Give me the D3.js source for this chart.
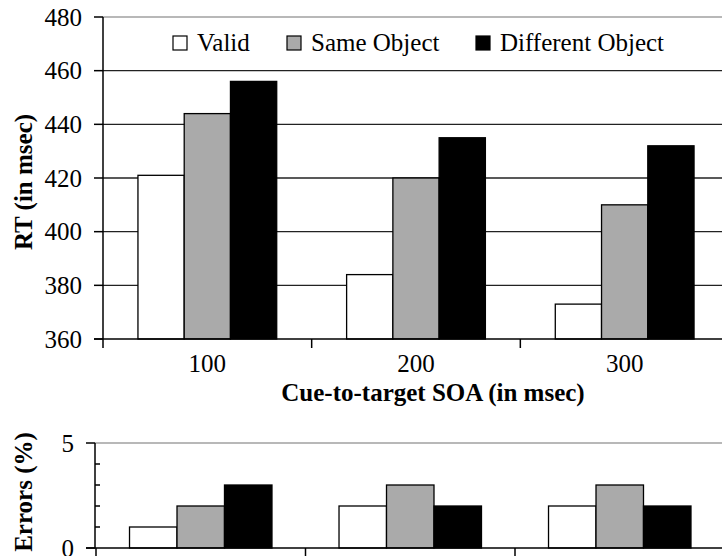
<!DOCTYPE html>
<html>
<head>
<meta charset="utf-8">
<title>RT and errors by SOA</title>
<script src="https://d3js.org/d3.v7.min.js"></script>
<style>
  body { margin: 0; background: #fff; }
  svg { display: block; }
  .grid { stroke: #222; stroke-width: 1.4; }
  .border { stroke: #a0a0a0; stroke-width: 1.4; }
  .ax { stroke: #000; stroke-width: 1.5; }
  .bar { stroke: #000; stroke-width: 1.3; }
</style>
</head>
<body>
<svg width="722" height="556"></svg>
<script>
// data
var categories = ["100", "200", "300"];
var seriesNames = ["Valid", "Same Object", "Different Object"];
var seriesFill = ["#ffffff", "#aaaaaa", "#000000"];

var rtValid = [421, 384, 373];
var rtSame  = [444, 420, 410];
var rtDiff  = [456, 435, 432];

var errValid = [1, 2, 2];
var errSame  = [2, 3, 3];
var errDiff  = [3, 2, 2];

var rtTicks = [360, 380, 400, 420, 440, 460, 480];
var errTicks = [0, 1, 2, 3, 4, 5];
var errLabels = [0, 5];

var FONT = "'Liberation Serif', Tinos, 'Times New Roman', 'DejaVu Serif', serif";
var FS = "25px";

var svg = d3.select("svg");

function rows(a, b, c) {
  return categories.map(function(cat, i) {
    return { cat: cat, vals: [a[i], b[i], c[i]] };
  });
}

// draws one panel of grouped bars
function panel(opt) {
  var x0 = d3.scaleBand().domain(categories).range(opt.xr)
             .paddingInner(opt.pad).paddingOuter(opt.pad / 2);
  var x1 = d3.scaleBand().domain(d3.range(seriesNames.length)).range([0, x0.bandwidth()]);
  var y = d3.scaleLinear().domain(opt.yd).range(opt.yr);
  var g = svg.append("g");
  var right = opt.xr[1];

  // gridlines / top border
  g.selectAll(".gl").data(opt.grid).enter().append("line")
    .attr("class", function(d) { return d == opt.yd[1] ? "border" : "grid"; })
    .attr("x1", opt.axisX).attr("x2", right)
    .attr("y1", function(d) { return y(d); }).attr("y2", function(d) { return y(d); });

  // bars
  var grp = g.selectAll(".grp").data(opt.data).enter().append("g")
    .attr("transform", function(d) { return "translate(" + x0(d.cat) + ",0)"; });
  grp.selectAll("rect").data(function(d) { return d.vals; }).enter().append("rect")
    .attr("class", "bar")
    .attr("x", function(d, i) { return x1(i); })
    .attr("width", x1.bandwidth())
    .attr("y", function(d) { return y(d); })
    .attr("height", function(d) { return y(opt.yd[0]) - y(d); })
    .attr("fill", function(d, i) { return seriesFill[i]; });

  // y axis line and ticks
  g.append("line").attr("class", "ax")
    .attr("x1", opt.axisX).attr("x2", opt.axisX)
    .attr("y1", y(opt.yd[1])).attr("y2", y(opt.yd[0]));
  g.selectAll(".yt").data(opt.ticks).enter().append("line").attr("class", "ax")
    .attr("x1", function(d) { return opt.labels.indexOf(d) >= 0 ? opt.axisX - 9 : opt.axisX; })
    .attr("x2", function(d) { return opt.labels.indexOf(d) >= 0 ? opt.axisX : opt.axisX + 5; })
    .attr("y1", function(d) { return y(d); }).attr("y2", function(d) { return y(d); });
  g.selectAll(".yl").data(opt.labels).enter().append("text")
    .attr("x", opt.axisX - 21).attr("y", function(d) { return y(d); })
    .attr("dy", "0.34em").attr("text-anchor", "end")
    .style("font-family", FONT).style("font-size", FS)
    .text(function(d) { return d; });

  // x axis line and category boundary ticks
  g.append("line").attr("class", "ax")
    .attr("x1", opt.axisX - 9).attr("x2", right)
    .attr("y1", y(opt.yd[0])).attr("y2", y(opt.yd[0]));
  var bounds = categories.map(function(c) { return x0(c) - x0.step() * x0.paddingInner() / 2; });
  g.selectAll(".xt").data(bounds).enter().append("line").attr("class", "ax")
    .attr("x1", function(d) { return d; }).attr("x2", function(d) { return d; })
    .attr("y1", y(opt.yd[0])).attr("y2", y(opt.yd[0]) + 9);

  if (opt.xLabels) {
    g.selectAll(".xl").data(categories).enter().append("text")
      .attr("x", function(d) { return x0(d) + x0.bandwidth() / 2; })
      .attr("y", y(opt.yd[0]) + 33)
      .attr("text-anchor", "middle")
      .style("font-family", FONT).style("font-size", FS)
      .text(function(d) { return d; });
  }

  svg.append("text")
    .attr("transform", "translate(32," + opt.titleY + ") rotate(-90)")
    .attr("text-anchor", "middle")
    .style("font-family", FONT).style("font-size", FS).style("font-weight", "bold")
    .text(opt.yTitle);
}

panel({
  data: rows(rtValid, rtSame, rtDiff),
  xr: [103, 729], pad: 0.335, axisX: 103,
  yd: [360, 480], yr: [339, 17],
  grid: rtTicks.slice(1), ticks: rtTicks, labels: rtTicks,
  xLabels: true, yTitle: "RT (in msec)", titleY: 182
});

panel({
  data: rows(errValid, errSame, errDiff),
  xr: [96, 724.5], pad: 0.32, axisX: 95,
  yd: [0, 5], yr: [548, 443],
  grid: [5], ticks: errTicks, labels: errLabels,
  xLabels: false, yTitle: "Errors (%)", titleY: 492
});

// x axis title
svg.append("text")
  .attr("x", 433).attr("y", 401)
  .attr("text-anchor", "middle")
  .style("font-family", FONT).style("font-size", FS).style("font-weight", "bold")
  .text("Cue-to-target SOA (in msec)");

// legend
var legX = [173, 287, 476];
var leg = svg.selectAll(".leg").data(seriesNames).enter().append("g")
  .attr("transform", function(d, i) { return "translate(" + legX[i] + ",36)"; });
leg.append("rect").attr("width", 14).attr("height", 14)
  .attr("fill", function(d, i) { return seriesFill[i]; })
  .attr("stroke", "#000").attr("stroke-width", 1.2);
leg.append("text").attr("x", 24).attr("y", 15)
  .style("font-family", FONT).style("font-size", FS)
  .text(function(d) { return d; });
</script>
</body>
</html>
